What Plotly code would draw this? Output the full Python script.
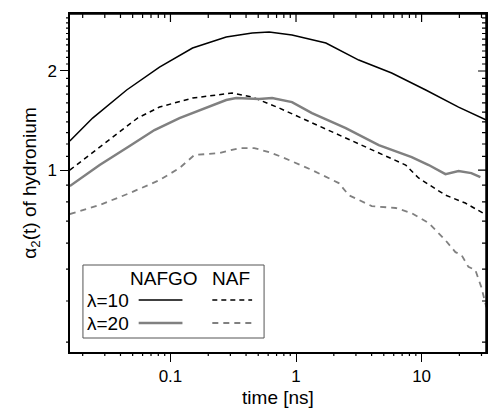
import numpy as np
import plotly.graph_objects as go

# ---- data ----
t_nafgo10 = [0.0158, 0.0240, 0.0448, 0.0818, 0.150, 0.278, 0.448, 0.611, 0.929, 1.73, 3.16, 5.78, 10.8, 19.7, 32.8]
a_nafgo10 = [1.225, 1.439, 1.751, 2.056, 2.349, 2.537, 2.608, 2.626, 2.571, 2.432, 2.159, 1.972, 1.751, 1.554, 1.419]

t_naf10 = [0.0158, 0.0273, 0.0394, 0.0547, 0.0818, 0.150, 0.310, 0.448, 0.733, 1.34, 2.49, 4.56, 7.47, 9.46, 15.5, 22.3, 32.8]
a_naf10 = [1.0, 1.175, 1.314, 1.439, 1.554, 1.655, 1.714, 1.667, 1.544, 1.39, 1.251, 1.126, 1.036, 0.946, 0.839, 0.794, 0.730]

t_nafgo20 = [0.0158, 0.0273, 0.0473, 0.0746, 0.118, 0.170, 0.278, 0.334, 0.508, 0.645, 0.929, 1.34, 2.49, 4.56, 8.34, 11.4, 15.5, 19.7, 24.9, 29.4]
a_nafgo20 = [0.894, 1.036, 1.183, 1.323, 1.439, 1.521, 1.632, 1.655, 1.644, 1.655, 1.609, 1.490, 1.342, 1.191, 1.095, 1.036, 0.972, 0.993, 0.979, 0.952]

t_naf20 = [0.0158, 0.0273, 0.0473, 0.0818, 0.118, 0.155, 0.245, 0.353, 0.465, 0.611, 0.775, 1.34, 2.19, 2.63, 4.01, 6.22, 8.34, 11.4, 15.5, 18.6, 20.8, 23.6, 26.8, 29.9, 32.8]
a_naf20 = [0.735, 0.783, 0.851, 0.932, 1.014, 1.111, 1.126, 1.166, 1.166, 1.134, 1.095, 1.0, 0.913, 0.839, 0.777, 0.767, 0.740, 0.690, 0.612, 0.563, 0.552, 0.508, 0.497, 0.441, 0.383]

x_tickvals = [0.1, 1, 10]
x_ticktext = ["0.1", "1", "10"]
y_tickvals = [1, 2]
y_ticktext = ["1", "2"]

# ---- layout constants ----
W, H = 489, 409
ML, MR, MT, MB = 70, 1, 14, 57
PW, PH = W - ML - MR, H - MT - MB
XR = [-1.80, 1.513]
YR = [float(np.log10(0.28)), float(np.log10(2.98))]
GRAY = "#808080"
FONT = "Liberation Sans, Arial, sans-serif"

x_minor = [m * 10.0 ** d for d in range(-2, 2) for m in range(2, 10)]
y_minor = [round(float(v), 2) for v in list(np.arange(0.3, 1.0, 0.1)) + list(np.arange(1.1, 2.0, 0.1)) + list(np.arange(2.1, 3.0, 0.1))]

fig = go.Figure()
fig.add_trace(go.Scatter(x=t_nafgo10, y=a_nafgo10, mode="lines", line=dict(color="black", width=1.5), showlegend=False))
fig.add_trace(go.Scatter(x=t_naf10, y=a_naf10, mode="lines", line=dict(color="black", width=1.5, dash="5px,4px"), showlegend=False))
fig.add_trace(go.Scatter(x=t_nafgo20, y=a_nafgo20, mode="lines", line=dict(color=GRAY, width=2.5), showlegend=False))
fig.add_trace(go.Scatter(x=t_naf20, y=a_naf20, mode="lines", line=dict(color=GRAY, width=1.8, dash="6px,5px"), showlegend=False))

axis_common = dict(type="log", showgrid=False, zeroline=False, showline=True, mirror=True, linecolor="black",
                   linewidth=1.5, tickcolor="black", tickwidth=1.2, tickmode="array", ticks="outside", ticklen=8)

fig.update_layout(
    width=W, height=H,
    margin=dict(l=ML, r=MR, t=MT, b=MB),
    paper_bgcolor="white", plot_bgcolor="white",
    font=dict(family=FONT, size=17, color="black"),
    xaxis=dict(axis_common, range=XR, tickvals=x_tickvals, ticktext=x_ticktext,
               title=dict(text="time [ns]", font=dict(size=19), standoff=6)),
    yaxis=dict(axis_common, range=YR, tickvals=y_tickvals, ticktext=y_ticktext,
               title=dict(text="α<sub>2</sub>(t) of hydronium", font=dict(size=19), standoff=6)),
)

# ---- frame (top/right) and extra ticks as ONE path shape each, paper-referenced ----
def xp(v):  # log-axis value -> paper fraction
    return float((np.log10(v) - XR[0]) / (XR[1] - XR[0]))

def yp(v):
    return float((np.log10(v) - YR[0]) / (YR[1] - YR[0]))

mx, my = 4 / PH, 4 / PW   # minor tick lengths in paper units
Mx, My = 8 / PH, 8 / PW   # major tick lengths
segs = []
for v in x_minor:
    p = xp(v)
    if 0 < p < 1:
        segs.append(f"M{p:.5f},0 L{p:.5f},{-mx:.5f}")
        segs.append(f"M{p:.5f},1 L{p:.5f},{1 - mx:.5f}")
for v in x_tickvals:
    p = xp(v)
    segs.append(f"M{p:.5f},1 L{p:.5f},{1 - Mx:.5f}")
for v in y_minor:
    p = yp(v)
    if 0 < p < 1:
        segs.append(f"M0,{p:.5f} L{-my:.5f},{p:.5f}")
        segs.append(f"M1,{p:.5f} L{1 - my:.5f},{p:.5f}")
for v in y_tickvals:
    p = yp(v)
    segs.append(f"M1,{p:.5f} L{1 - My:.5f},{p:.5f}")

fig.add_shape(type="path", xref="paper", yref="paper", path=" ".join(segs),
              line=dict(color="black", width=1.2), layer="above")
fig.add_shape(type="path", xref="paper", yref="paper", path="M0,1 L1,1 L1,0",
              line=dict(color="black", width=1.5), layer="above")

# ---- custom legend box (pixel positions -> paper coords) ----
def px(x):
    return (x - ML) / PW

def py(y):
    return (MT + PH - y) / PH

fig.add_shape(type="rect", xref="paper", yref="paper", x0=px(83), x1=px(265), y0=py(338), y1=py(265),
              line=dict(color="#555555", width=1), fillcolor="white", layer="above")
row_y = [300, 323]
styles = [(dict(color="black", width=1.5), dict(color="black", width=1.5, dash="5px,4px")),
          (dict(color=GRAY, width=2.5), dict(color=GRAY, width=1.8, dash="6px,5px"))]
for yy, (s1, s2) in zip(row_y, styles):
    fig.add_shape(type="line", xref="paper", yref="paper", x0=px(139), x1=px(183), y0=py(yy), y1=py(yy), line=s1, layer="above")
    fig.add_shape(type="line", xref="paper", yref="paper", x0=px(213), x1=px(253), y0=py(yy), y1=py(yy), line=s2, layer="above")

for txt, x, y, anchor in [("NAFGO", 164, 278, "center"), ("NAF", 232, 278, "center"),
                          ("λ=10", 85, 300, "left"), ("λ=20", 85, 323, "left")]:
    fig.add_annotation(text=txt, xref="paper", yref="paper", x=px(x), y=py(y), xanchor=anchor, yanchor="middle",
                       showarrow=False, font=dict(size=19, family=FONT, color="black"))

fig.write_html("out.html")
